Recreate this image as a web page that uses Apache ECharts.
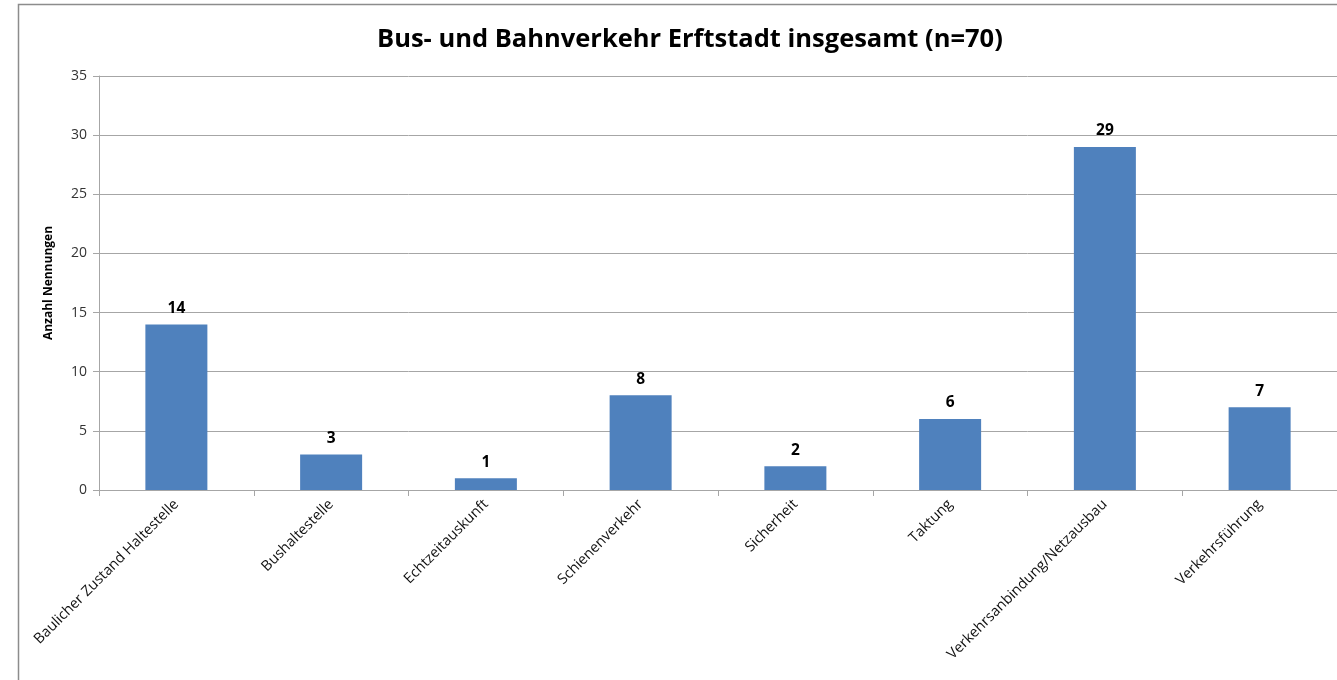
<!DOCTYPE html>
<html>
<head>
<meta charset="utf-8">
<script src="https://cdn.jsdelivr.net/npm/echarts@6/dist/echarts.min.js"></script>
<style>
  html, body { margin: 0; padding: 0; background: #fff; }
  #chart { width: 1337px; height: 680px; }
</style>
</head>
<body>
<div id="chart"></div>
<script>
// data
var categories = ['Baulicher Zustand Haltestelle', 'Bushaltestelle', 'Echtzeitauskunft', 'Schienenverkehr',
    'Sicherheit', 'Taktung', 'Verkehrsanbindung/Netzausbau', 'Verkehrsführung'];
var counts = [14, 3, 1, 8, 2, 6, 29, 7];
var yTicks = [0, 5, 10, 15, 20, 25, 30, 35];

var myChart = echarts.init(document.getElementById('chart'));
var font = '"Open Sans", "Noto Sans", sans-serif';

var option = {
    animation: false,
    textStyle: { fontFamily: font },
    title: {
        text: 'Bus- und Bahnverkehr Erftstadt insgesamt (n=70)',
        left: 372,
        top: 22,
        textStyle: { fontSize: 25.5, fontWeight: 'bold', color: '#000', fontFamily: font }
    },
    graphic: [{
        type: 'rect',
        shape: { x: 18.5, y: 4.5, width: 1340, height: 700 },
        style: { fill: 'none', stroke: '#8c8c8c', lineWidth: 1.5 },
        silent: true
    }],
    grid: {
        left: 99,
        top: 76,
        width: 1240,
        height: 414
    },
    xAxis: {
        type: 'category',
        data: categories,
        axisLine: { lineStyle: { color: '#a6a6a6' } },
        axisTick: { show: true, length: 6, alignWithLabel: false, lineStyle: { color: '#a6a6a6' } },
        axisLabel: {
            rotate: 45,
            interval: 0,
            margin: 12,
            fontSize: 14.5,
            color: '#111'
        }
    },
    yAxis: {
        type: 'value',
        min: 0,
        max: 35,
        interval: 5,
        name: 'Anzahl Nennungen',
        nameLocation: 'middle',
        nameGap: 44,
        nameRotate: 90,
        nameTextStyle: { fontSize: 12, fontWeight: 'bold', color: '#000' },
        axisLine: { show: true, lineStyle: { color: '#a6a6a6' } },
        axisTick: { show: true, length: 6, inside: false, lineStyle: { color: '#a6a6a6' } },
        axisLabel: {
            margin: 12,
            fontSize: 14,
            color: '#333',
            formatter: function (v) { return yTicks.indexOf(v) >= 0 ? String(v) : ''; }
        },
        splitLine: { show: true, lineStyle: { color: '#a6a6a6', width: 1 } }
    },
    series: [{
        type: 'bar',
        data: counts,
        barWidth: 62,
        itemStyle: { color: '#4F81BD' },
        label: {
            show: true,
            position: 'top',
            distance: 8,
            fontSize: 15.5,
            fontWeight: 'bold',
            color: '#000'
        }
    }]
};

myChart.setOption(option);
</script>
</body>
</html>
